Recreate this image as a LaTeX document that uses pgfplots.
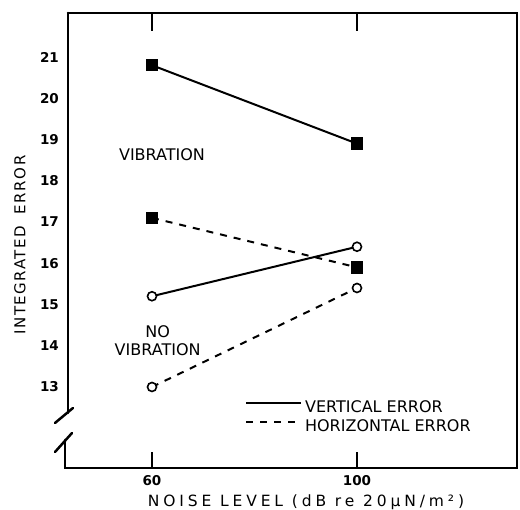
\documentclass[border=0pt]{standalone}
\usepackage{pgfplots}
\pgfplotsset{compat=1.18}
\usepackage{fontspec}
\setmainfont{DejaVu Sans}
\begin{document}
\begin{tikzpicture}
\useasboundingbox (-68pt,-42pt) rectangle (452pt,468pt);
\begin{axis}[
  at={(0pt,0pt)}, anchor=south west,
  scale only axis, width=449pt, height=455pt,
  xmin=43.61, xmax=131.22, ymin=11.036, ymax=22.067,
  axis line style={draw=none},
  xtick={60,100}, ytick={13,14,15,16,17,18,19,20,21},
  major tick length=0pt,
  /pgf/number format/assume math mode=true,
  ticklabel style={font=\fontsize{13.5}{13.5}\selectfont\bfseries},
  yticklabel style={anchor=east, inner sep=0pt, xshift=-9pt},
  xticklabel style={anchor=north, inner sep=0pt, yshift=-7pt},
  clip=false,
  legend style={at={(rel axis cs:0.394,0.149)}, anchor=north west, draw=none, fill=none,
    inner sep=0pt, font=\fontsize{16}{16}\selectfont, row sep=6pt, column sep=3pt,
    nodes={inner sep=0pt}},
  legend cell align=left,
  legend image code/.code={\draw[#1, line width=2pt] (0pt,0.45em) -- (55pt,0.45em);},
]
\addplot[black, line width=2pt, mark=square*, mark size=5.2pt, mark options={solid}, forget plot]
  coordinates {(60,20.8) (100,18.9)};
\addplot[black, line width=2pt, dash pattern=on 7pt off 7pt, mark=square*, mark size=5.2pt, mark options={solid}, forget plot]
  coordinates {(60,17.1) (100,15.9)};
\addplot[black, line width=2pt, mark=*, mark size=4.5pt, mark options={solid, fill=white, line width=1.6pt}, forget plot]
  coordinates {(60,15.2) (100,16.4)};
\addplot[black, line width=2pt, dash pattern=on 7pt off 7pt, mark=*, mark size=4.5pt, mark options={solid, fill=white, line width=1.6pt}, forget plot]
  coordinates {(60,13.0) (100,15.4)};
\addlegendimage{black, solid}
\addlegendentry{VERTICAL ERROR}
\addlegendimage{black, dash pattern=on 7pt off 7pt}
\addlegendentry{HORIZONTAL ERROR}
\draw[line width=1.5pt] (axis cs:60,11.036) -- ++(0pt,16pt);
\draw[line width=1.5pt] (axis cs:100,11.036) -- ++(0pt,16pt);
\draw[line width=1.5pt] (axis cs:60,22.067) -- ++(0pt,-18pt);
\draw[line width=1.5pt] (axis cs:100,22.067) -- ++(0pt,-18pt);
\node[font=\fontsize{16}{16}\selectfont] at (axis cs:61.95,18.62) {VIBRATION};
\node[font=\fontsize{16}{18}\selectfont, align=center] at (axis cs:61.1,14.12) {NO\\VIBRATION};
\node[rotate=90, font=\fontsize{15}{15}\selectfont\addfontfeatures{LetterSpace=10}] at (axis description cs:-0.1069,0.490) {INTEGRATED\hspace{12pt}ERROR};
\node[anchor=base, inner sep=0pt, font=\fontsize{15.5}{15.5}\selectfont\addfontfeatures{LetterSpace=25}] at (axis description cs:0.530,-0.0857) {NOISE LEVEL (dB re 20μN/m²)};
\end{axis}
\draw[line width=2.5pt, line cap=round] (0pt,455pt) -- (449pt,455pt) -- (449pt,0pt) -- (-3pt,0pt) -- (-3pt,28pt);
\draw[line width=2.5pt, line cap=round] (0pt,455pt) -- (0pt,55pt);
\draw[line width=2.5pt, line cap=round] (-13pt,45pt) -- (5pt,60pt);
\draw[line width=2.5pt, line cap=round] (-13pt,16pt) -- (4pt,35pt);
\end{tikzpicture}
\end{document}
